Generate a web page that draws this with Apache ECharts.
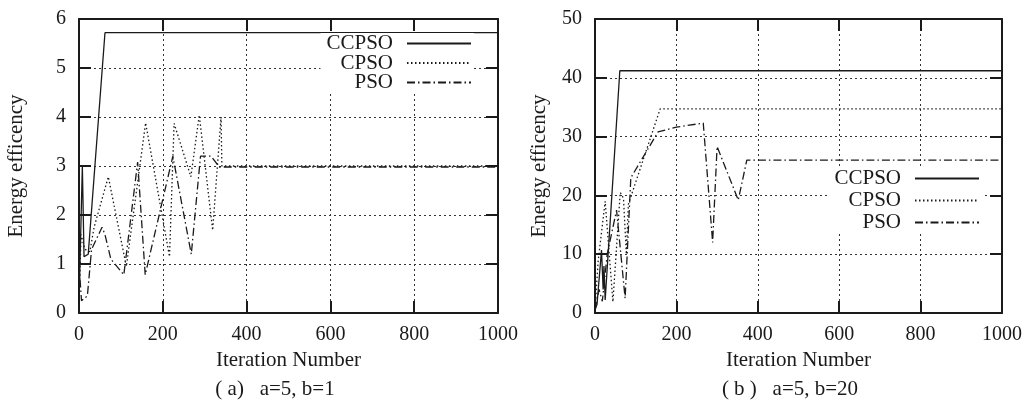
<!DOCTYPE html>
<html><head><meta charset="utf-8">
<script src="https://cdn.jsdelivr.net/npm/echarts@6/dist/echarts.min.js"></script>
<style>html,body{margin:0;padding:0;background:#fff}#c{width:1026px;height:405px}</style>
</head><body><div id="c"></div>
<script>
// ---- data (iteration, energy efficiency) ----
const seriesNames = ['CCPSO', 'CPSO', 'PSO'];
const xTicks = [0, 200, 400, 600, 800, 1000];
const yTicksA = [0, 1, 2, 3, 4, 5, 6];
const yTicksB = [0, 10, 20, 30, 40, 50];
const captionA = '( a)   a=5, b=1';
const captionB = '( b )   a=5, b=20';
const xName = 'Iteration Number';
const yName = 'Energy efficency';

// panel (a) a=5, b=1
const ccpsoA = [[0,0.2],[8,3.0],[12,1.15],[22,1.2],[62,5.72],[1000,5.72]];
const cpsoA  = [[0,0.2],[5,1.6],[14,1.3],[26,1.25],[36,1.75],[70,2.78],[113,0.95],[159,3.88],[216,1.15],[227,3.87],[267,2.78],[287,4.04],[319,1.69],[339,4.0],[341,3.0],[1000,3.0]];
const psoA   = [[0,1.0],[6,0.25],[20,0.35],[30,1.3],[55,1.75],[62,1.6],[76,1.1],[107,0.78],[140,3.08],[158,0.78],[224,3.2],[268,1.2],[290,3.2],[315,3.2],[335,2.98],[1000,2.98]];

// panel (b) a=5, b=20
const ccpsoB = [[0,0.5],[5,1.5],[16,10.7],[20,4],[22,8],[25,2.2],[61,41.2],[1000,41.2]];
const cpsoB  = [[0,0.5],[8,9],[25,19],[44,1.9],[62,20.5],[70,19.5],[77,10],[82,18.5],[160,34.7],[1000,34.7]];
const psoB   = [[0,0.5],[10,4],[18,2],[30,10],[53,17.5],[74,2.5],[88,23],[155,30.8],[200,31.6],[266,32.3],[289,12],[300,28.3],[352,19.2],[373,26],[1000,26]];

// ---- styles ----
const FONT = '"Liberation Serif", "Times New Roman", serif';
const INK = '#1a1a1a';
const lineStyles = [
  { color: INK, width: 1.3, type: 'solid' },
  { color: INK, width: 1.3, type: [1.5, 2.5] },
  { color: INK, width: 1.3, type: [8, 3, 1.5, 3] }
];
const fmt = v => String(v);

function xAxisPair(grid) {
  return [
    { type: 'value', gridIndex: grid, position: 'bottom', min: xTicks[0], max: xTicks[xTicks.length - 1], interval: xTicks[1] - xTicks[0],
      name: xName, nameLocation: 'middle', nameGap: 36,
      nameTextStyle: { fontFamily: FONT, fontSize: 21, color: INK },
      axisLine: { show: true, onZero: false, lineStyle: { color: INK, width: 2 } },
      axisTick: { show: true, inside: true, length: 12, lineStyle: { color: INK, width: 2 } },
      axisLabel: { fontFamily: FONT, fontSize: 20, color: INK, margin: 12, formatter: fmt, showMinLabel: true, showMaxLabel: true },
      splitLine: { show: true, lineStyle: { color: '#333', width: 1, type: [2, 3] } } },
    { type: 'value', gridIndex: grid, position: 'top', min: xTicks[0], max: xTicks[xTicks.length - 1], interval: xTicks[1] - xTicks[0],
      axisLine: { show: true, onZero: false, lineStyle: { color: INK, width: 2 } },
      axisTick: { show: true, inside: true, length: 12, lineStyle: { color: INK, width: 2 } },
      axisLabel: { show: false }, splitLine: { show: false } }
  ];
}
function yAxisPair(grid, ticks, gap) {
  const mn = ticks[0], mx = ticks[ticks.length - 1], iv = ticks[1] - ticks[0];
  return [
    { type: 'value', gridIndex: grid, position: 'left', min: mn, max: mx, interval: iv,
      name: yName, nameLocation: 'middle', nameGap: gap, nameRotate: 90,
      nameTextStyle: { fontFamily: FONT, fontSize: 21, color: INK },
      axisLine: { show: true, onZero: false, lineStyle: { color: INK, width: 2 } },
      axisTick: { show: true, inside: true, length: 12, lineStyle: { color: INK, width: 2 } },
      axisLabel: { fontFamily: FONT, fontSize: 20, color: INK, margin: 13, formatter: fmt },
      splitLine: { show: true, lineStyle: { color: '#333', width: 1, type: [2, 3] } } },
    { type: 'value', gridIndex: grid, position: 'right', min: mn, max: mx, interval: iv,
      axisLine: { show: true, onZero: false, lineStyle: { color: INK, width: 2 } },
      axisTick: { show: true, inside: true, length: 12, lineStyle: { color: INK, width: 2 } },
      axisLabel: { show: false }, splitLine: { show: false } }
  ];
}
function mk(name, data, xi, yi, idx) {
  return { name: name, type: 'line', data: data, xAxisIndex: xi, yAxisIndex: yi,
    showSymbol: false, symbol: 'none', lineStyle: lineStyles[idx], itemStyle: { color: INK },
    z: 3, silent: true };
}
function legend(right, top, gap) {
  return { data: seriesNames, orient: 'vertical', align: 'right', right: right, top: top,
    itemWidth: 64, itemHeight: 12, itemGap: gap, padding: [0, 2, 0, 6],
    backgroundColor: '#fff', selectedMode: false,
    itemStyle: { color: 'rgba(0,0,0,0)', borderWidth: 0, opacity: 0 },
    textStyle: { fontFamily: FONT, fontSize: 21, color: INK, lineHeight: 20, padding: [0, 9, 0, 0] } };
}

const chart = echarts.init(document.getElementById('c'), null, { renderer: 'canvas' });
chart.setOption({
  animation: false,
  backgroundColor: '#fff',
  grid: [
    { left: 79, right: 1026 - 498, top: 19, bottom: 405 - 313 },
    { left: 595, right: 1026 - 1002, top: 19, bottom: 405 - 313 }
  ],
  xAxis: [...xAxisPair(0), ...xAxisPair(1)],
  yAxis: [...yAxisPair(0, yTicksA, 52), ...yAxisPair(1, yTicksB, 45)],
  legend: [legend(1026 - 474, 33, -1.5), legend(1026 - 982, 168, 1)],
  series: [
    mk(seriesNames[0], ccpsoA, 0, 0, 0),
    mk(seriesNames[1], cpsoA, 0, 0, 1),
    mk(seriesNames[2], psoA, 0, 0, 2),
    mk(seriesNames[0], ccpsoB, 2, 2, 0),
    mk(seriesNames[1], cpsoB, 2, 2, 1),
    mk(seriesNames[2], psoB, 2, 2, 2)
  ],
  graphic: [
    { type: 'text', x: 275, y: 389, style: { text: captionA, textAlign: 'center', textVerticalAlign: 'middle', font: '21px ' + FONT, fill: INK } },
    { type: 'text', x: 790, y: 389, style: { text: captionB, textAlign: 'center', textVerticalAlign: 'middle', font: '21px ' + FONT, fill: INK } }
  ]
});
</script>
</body></html>
